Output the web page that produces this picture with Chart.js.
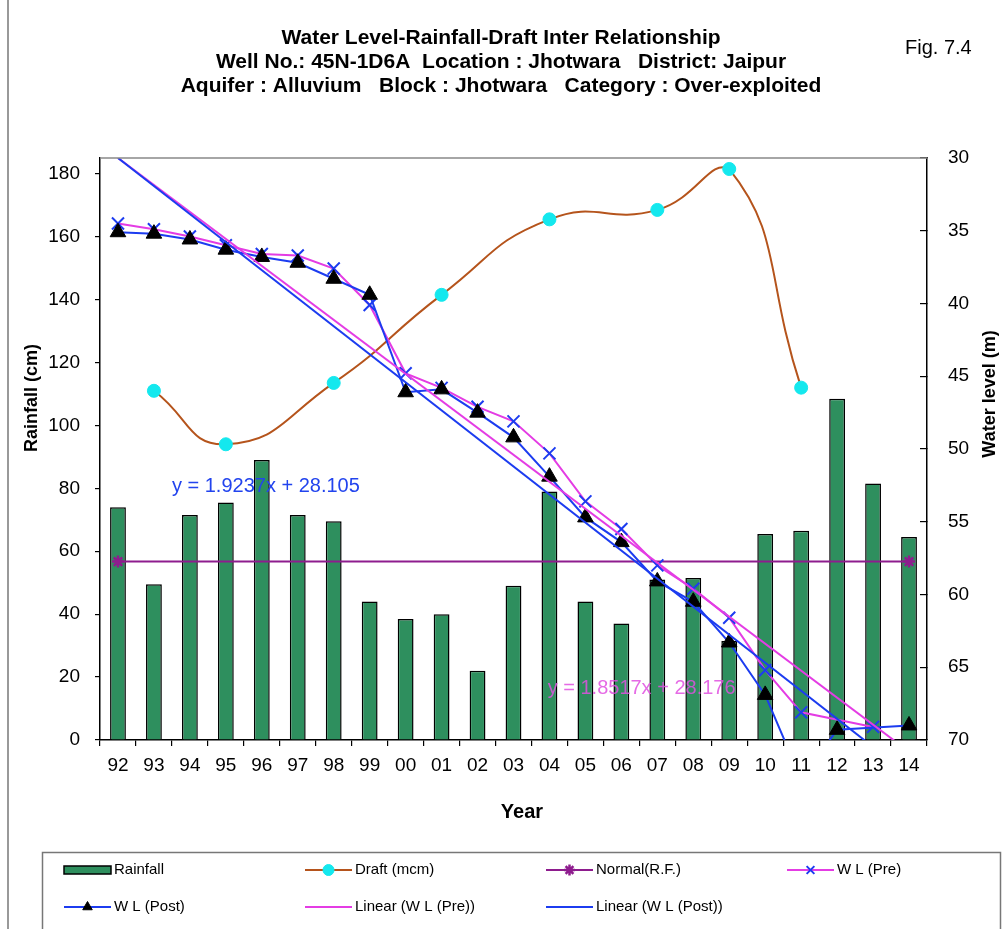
<!DOCTYPE html>
<html>
<head>
<meta charset="utf-8">
<script src="https://cdn.jsdelivr.net/npm/chart.js@4.4.0/dist/chart.umd.min.js"></script>
<style>
  html, body { margin: 0; padding: 0; background: #fff; }
  #wrap { width: 1008px; height: 929px; }
</style>
</head>
<body>
<div id="wrap"><canvas id="chart"></canvas></div>
<script>
const years = ['92','93','94','95','96','97','98','99','00','01','02','03','04','05','06','07','08','09','10','11','12','13','14'];
const rainfall = [74, 49.5, 71.5, 75.5, 89, 71.5, 69.5, 44, 38.5, 40, 22, 49, 79, 44, 37, 51, 51.5, 31.5, 65.5, 66.5, 108.5, 81.5, 64.5];
const draft = [null, 111, null, 94, null, null, 113.5, null, null, 141.5, null, null, 165.5, null, null, 168.5, null, 181.5, null, 112, null, null, null];
const normalRF = [56.7, 56.7, 56.7, 56.7, 56.7, 56.7, 56.7, 56.7, 56.7, 56.7, 56.7, 56.7, 56.7, 56.7, 56.7, 56.7, 56.7, 56.7, 56.7, 56.7, 56.7, 56.7, 56.7];
const wlPre = [34.5, 34.9, 35.4, 36.0, 36.6, 36.7, 37.6, 40.1, 44.8, 45.8, 47.1, 48.1, 50.3, 53.6, 55.5, 58.0, 59.6, 61.6, 65.2, 68.1, null, 69.1, null];
const wlPost = [35.1, 35.2, 35.6, 36.3, 36.8, 37.2, 38.3, 39.4, 46.1, 45.9, 47.5, 49.2, 51.9, 54.7, 56.4, 59.1, 60.5, 63.3, 66.9, 72.7, 69.3, null, 69.0];
// trendline end values (first and last year)
const trendPre = [30.0, null, null, null, null, null, null, null, null, null, null, null, null, null, null, null, null, null, null, null, null, null, 70.8];
const trendPost = [30.0, null, null, null, null, null, null, null, null, null, null, null, null, null, null, null, null, null, null, null, null, null, 72.4];
const rainTicks = [0, 20, 40, 60, 80, 100, 120, 140, 160, 180];
const levelTicks = [30, 35, 40, 45, 50, 55, 60, 65, 70];

const titleLines = [
  'Water Level-Rainfall-Draft Inter Relationship',
  'Well No.: 45N-1D6A  Location : Jhotwara   District: Jaipur',
  'Aquifer : Alluvium   Block : Jhotwara   Category : Over-exploited'
];
const eqPost = 'y = 1.9237x + 28.105';
const eqPre = 'y = 1.8517x + 28.176';

const FONT = "'Liberation Sans', Arial, sans-serif";
const endMarks = normalRF.map((v, i) => (i === 0 || i === normalRF.length - 1) ? 6 : 0);

const decor = {
  id: 'decor',
  beforeDraw(chart) {
    const ctx = chart.ctx;
    ctx.save();
    ctx.fillStyle = '#fff';
    ctx.fillRect(0, 0, chart.width, chart.height);
    ctx.restore();
  },
  afterDatasetsDraw(chart) {
    const ctx = chart.ctx, a = chart.chartArea;
    const x = chart.scales.x, y = chart.scales.y;
    ctx.save();
    // top edge of plot area
    ctx.strokeStyle = '#888';
    ctx.lineWidth = 1.5;
    ctx.beginPath();
    ctx.moveTo(a.left, a.top);
    ctx.lineTo(a.right, a.top);
    ctx.stroke();
    // trendline equations
    ctx.font = '20px ' + FONT;
    ctx.textBaseline = 'middle';
    ctx.textAlign = 'left';
    ctx.fillStyle = '#2244ee';
    ctx.fillText(eqPost, x.getPixelForValue(1.5), y.getPixelForValue(80.5));
    ctx.fillStyle = 'rgba(224, 80, 224, 0.85)';
    ctx.fillText(eqPre, x.getPixelForValue(11.95), y.getPixelForValue(16.5));
    ctx.restore();
  },
  afterDraw(chart) {
    const ctx = chart.ctx;
    ctx.save();
    // outer frame edge
    ctx.strokeStyle = '#777';
    ctx.lineWidth = 1.5;
    ctx.beginPath();
    ctx.moveTo(8, 0);
    ctx.lineTo(8, chart.height);
    ctx.stroke();

    ctx.fillStyle = '#000';
    ctx.textAlign = 'center';
    ctx.textBaseline = 'middle';
    ctx.font = 'bold 21px ' + FONT;
    titleLines.forEach((t, i) => ctx.fillText(t, 501, 38 + i * 24));

    ctx.font = '20px ' + FONT;
    ctx.textAlign = 'left';
    ctx.fillText('Fig. 7.4', 905, 48);

    ctx.textAlign = 'center';
    ctx.font = 'bold 20px ' + FONT;
    ctx.fillText('Year', 522, 812);

    ctx.font = 'bold 18px ' + FONT;
    ctx.save();
    ctx.translate(32, 398);
    ctx.rotate(-Math.PI / 2);
    ctx.fillText('Rainfall (cm)', 0, 0);
    ctx.restore();
    ctx.save();
    ctx.translate(990, 394);
    ctx.rotate(-Math.PI / 2);
    ctx.fillText('Water level (m)', 0, 0);
    ctx.restore();

    // legend box
    ctx.strokeStyle = '#777';
    ctx.lineWidth = 1.5;
    ctx.strokeRect(42.5, 852.5, 958, 120);
    const cols = [64, 305, 546, 787];
    const rows = [870, 907];
    ctx.font = '15px ' + FONT;
    ctx.textAlign = 'left';
    chart.data.datasets.forEach((ds, i) => {
      const lx = cols[i % 4], ly = rows[Math.floor(i / 4)];
      if (ds.type === 'bar') {
        ctx.fillStyle = ds.backgroundColor;
        ctx.fillRect(lx, ly - 4, 47, 8);
        ctx.strokeStyle = '#000';
        ctx.lineWidth = 1.5;
        ctx.strokeRect(lx, ly - 4, 47, 8);
      } else {
        ctx.strokeStyle = ds.borderColor;
        ctx.lineWidth = 2;
        ctx.beginPath();
        ctx.moveTo(lx, ly);
        ctx.lineTo(lx + 47, ly);
        ctx.stroke();
        const r = Array.isArray(ds.pointRadius) ? Math.max(...ds.pointRadius) : (ds.pointRadius || 0);
        if (r > 0) {
          ctx.fillStyle = ds.pointBackgroundColor;
          ctx.strokeStyle = ds.pointBorderColor;
          ctx.lineWidth = ds.pointBorderWidth || 1;
          Chart.helpers.drawPoint(ctx, {pointStyle: ds.pointStyle, radius: Math.min(r, 5.5), borderWidth: ds.pointBorderWidth || 1, rotation: 0}, lx + 23.5, ly);
        }
      }
      ctx.fillStyle = '#000';
      ctx.fillText(ds.label, lx + 50, ly);
    });
    ctx.restore();
  }
};

new Chart(document.getElementById('chart'), {
  data: {
    labels: years,
    datasets: [
      {
        type: 'bar', label: 'Rainfall', data: rainfall, yAxisID: 'y',
        backgroundColor: '#2e8f5e', borderColor: '#000', borderWidth: 1.5,
        barPercentage: 0.44, categoryPercentage: 1, order: 10
      },
      {
        type: 'line', label: 'Draft (mcm)', data: draft, yAxisID: 'y',
        borderColor: '#b5541c', borderWidth: 2, tension: 0.5, spanGaps: true,
        pointStyle: 'circle', pointRadius: 6.5, pointBackgroundColor: '#14e8ee',
        pointBorderColor: '#14e8ee', pointBorderWidth: 1, order: 9
      },
      {
        type: 'line', label: 'Normal(R.F.)', data: normalRF, yAxisID: 'y',
        borderColor: '#8e1c8e', borderWidth: 2, pointStyle: 'star',
        pointRadius: endMarks, pointBackgroundColor: '#8e1c8e',
        pointBorderColor: '#8e1c8e', pointBorderWidth: 2.5, order: 8
      },
      {
        type: 'line', label: 'W L (Pre)', data: wlPre, yAxisID: 'y1',
        borderColor: '#e43ce4', borderWidth: 2, spanGaps: true,
        pointStyle: 'crossRot', pointRadius: 8.5, pointBackgroundColor: '#1c3cf0',
        pointBorderColor: '#1c3cf0', pointBorderWidth: 2, order: 7
      },
      {
        type: 'line', label: 'W L (Post)', data: wlPost, yAxisID: 'y1',
        borderColor: '#1c3cf0', borderWidth: 2, spanGaps: true,
        pointStyle: 'triangle', pointRadius: 9, pointBackgroundColor: '#000',
        pointBorderColor: '#000', pointBorderWidth: 1, order: 6
      },
      {
        type: 'line', label: 'Linear (W L (Pre))', data: trendPre, yAxisID: 'y1',
        borderColor: '#e43ce4', borderWidth: 2, spanGaps: true, pointRadius: 0, order: 5
      },
      {
        type: 'line', label: 'Linear (W L (Post))', data: trendPost, yAxisID: 'y1',
        borderColor: '#1c3cf0', borderWidth: 2, spanGaps: true, pointRadius: 0, order: 4
      }
    ]
  },
  options: {
    responsive: true,
    maintainAspectRatio: false,
    animation: false,
    layout: { padding: { top: 158, left: 0, right: 0, bottom: 99 } },
    plugins: { legend: { display: false }, tooltip: { enabled: false } },
    scales: {
      x: {
        type: 'category',
        afterFit: s => { s.height = 90; },
        grid: { drawOnChartArea: false, tickLength: 6, color: '#000', lineWidth: 1.2 },
        border: { color: '#000', width: 1.5 },
        ticks: { color: '#000', padding: 8, maxRotation: 0, autoSkip: false, font: { family: FONT, size: 19 } }
      },
      y: {
        position: 'left', min: 0, max: 185,
        afterFit: s => { s.width = 100; },
        afterBuildTicks: s => { s.ticks = rainTicks.map(v => ({ value: v })); },
        grid: { drawOnChartArea: false, tickLength: 5, color: '#000', lineWidth: 1.2 },
        border: { color: '#000', width: 1.5 },
        ticks: { color: '#000', padding: 15, font: { family: FONT, size: 19 } }
      },
      y1: {
        position: 'right', min: 30, max: 70, reverse: true,
        afterFit: s => { s.width = 81; },
        afterBuildTicks: s => { s.ticks = levelTicks.map(v => ({ value: v })); },
        grid: { drawOnChartArea: false, tickLength: -7, color: '#000', lineWidth: 1.2 },
        border: { color: '#000', width: 1.5 },
        ticks: { color: '#000', padding: 28, font: { family: FONT, size: 19 } }
      }
    }
  },
  plugins: [decor]
});
</script>
</body>
</html>
